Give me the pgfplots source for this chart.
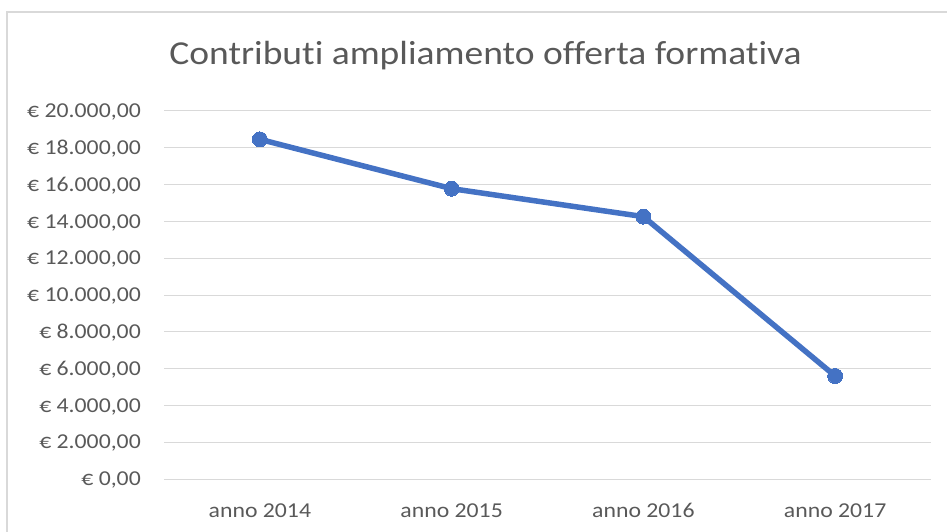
\documentclass[border=0pt]{standalone}
\usepackage{fontspec}
\setmainfont{Carlito}[FakeStretch=1.12, Ligatures={NoCommon}]
\usepackage{pgfplots}
\pgfplotsset{compat=1.18}
\definecolor{linec}{HTML}{4472C4}
\definecolor{gridc}{HTML}{D9D9D9}
\definecolor{txtc}{HTML}{595959}
\begin{document}
\begin{tikzpicture}[x=1pt,y=1pt]
\useasboundingbox (0,0) rectangle (947,531);
\clip (0,0) rectangle (947,531);
\draw[color=gridc, line width=1.5pt] (7,519) rectangle (965,-20);
\node[anchor=base, text=txtc, inner sep=0pt, font=\fontsize{33.5}{40}\selectfont] at (485.5,466) {Contributi ampliamento offerta formativa};
\begin{axis}[
  at={(164pt,52pt)}, anchor=south west, scale only axis,
  width=767pt, height=368pt,
  xmin=-0.5, xmax=3.5, ymin=0, ymax=20000,
  scaled y ticks=false,
  xtick={0,1,2,3},
  xticklabels={anno 2014,anno 2015,anno 2016,anno 2017},
  ytick={0,2000,4000,6000,8000,10000,12000,14000,16000,18000,20000},
  yticklabels={{€ 0,00},{€ 2.000,00},{€ 4.000,00},{€ 6.000,00},{€ 8.000,00},{€ 10.000,00},{€ 12.000,00},{€ 14.000,00},{€ 16.000,00},{€ 18.000,00},{€ 20.000,00}},
  ymajorgrids, grid style={color=gridc, line width=1pt},
  axis line style={draw=none}, major tick length=0pt,
  tick label style={text=txtc, font=\fontsize{21.2}{24}\selectfont},
  xticklabel style={anchor=base, yshift=-38pt, inner sep=0pt},
  yticklabel style={anchor=base east, xshift=-23pt, yshift=-6.7pt, inner sep=0pt},
  clip=false]
\addplot[color=linec, line width=5.5pt, mark=*, mark size=7.5pt, mark options={line width=0pt, fill=linec}]
  coordinates {(0,18460) (1,15780) (2,14260) (3,5600)};
\end{axis}
\end{tikzpicture}
\end{document}
